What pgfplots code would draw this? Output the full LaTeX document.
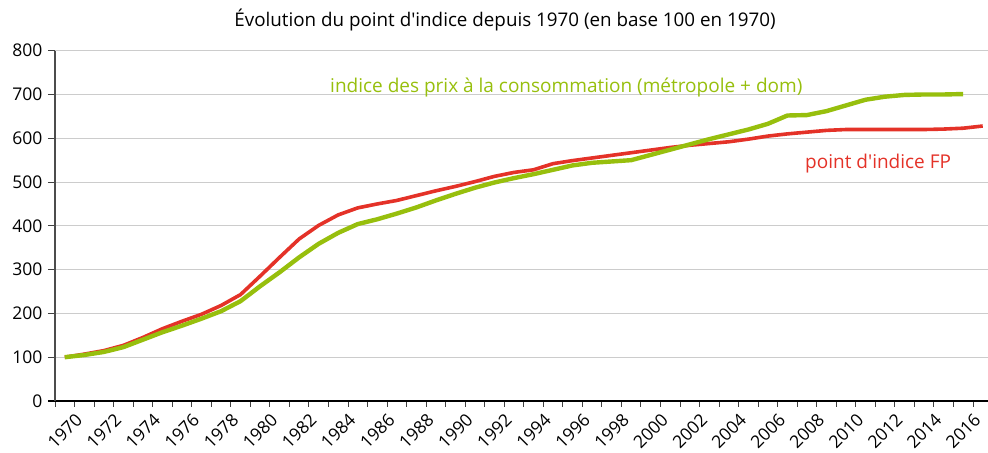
\documentclass[border=0pt]{standalone}
\usepackage{pgfplots}
\pgfplotsset{compat=1.18}
\usetikzlibrary{calc}
\usepackage{fontspec}
\setmainfont{Open Sans}
\definecolor{cgreen}{RGB}{151,191,13}
\definecolor{cred}{RGB}{228,50,40}
\begin{document}
\begin{tikzpicture}[x=1pt,y=1pt]
\begin{axis}[
  name=ax,
  scale only axis,
  width=933pt, height=350.3pt,
  xmin=1969.5, xmax=2017.27,
  ymin=0, ymax=800,
  axis lines=left,
  axis line style={-},
  x axis line style={black, line width=1.2pt, shorten <=-7pt},
  y axis line style={black!70, line width=1.2pt},
  ytick={0,100,...,800},
  xtick={1970,1972,...,2016},
  minor xtick={1969.5,1970.5,...,2016.5},
  major x tick style={draw=none},
  minor x tick style={black!75, line width=0.9pt},
  y tick style={black!75, line width=0.9pt},
  tick align=outside,
  major tick length=7pt,
  minor tick length=6pt,
  ymajorgrids,
  grid style={black!20, line width=1.1pt},
  /pgf/number format/assume math mode=true,
  /pgf/number format/1000 sep={},
  tick label style={font=\fontsize{17.5}{20}\selectfont},
  yticklabel style={anchor=east, xshift=-2pt},
  xticklabel style={rotate=45, anchor=center, inner sep=0pt},
  xticklabel shift=23pt,
  clip=false,
]
\addplot[cred, line width=3.6pt, line join=round] coordinates {
(1970,100) (1971,107) (1972,115) (1973,127) (1974,145) (1975,165) (1976,182) (1977,198) (1978,218) (1979,243)
(1980,285) (1981,328) (1982,370) (1983,401) (1984,425) (1985,441) (1986,450) (1987,458) (1988,469) (1989,480)
(1990,490) (1991,501) (1992,513) (1993,522) (1994,528) (1995,542) (1996,549) (1997,555) (1998,561) (1999,567)
(2000,573) (2001,579) (2002,584) (2003,588) (2004,592) (2005,598) (2006,605) (2007,610) (2008,614) (2009,618)
(2010,620) (2011,620) (2012,620) (2013,620) (2014,620) (2015,621) (2016,623) (2017,628)
};
\addplot[cgreen, line width=4.4pt, line join=round] coordinates {
(1970,100) (1971,105) (1972,112) (1973,123) (1974,140) (1975,157) (1976,172) (1977,188) (1978,205) (1979,228)
(1980,262) (1981,294) (1982,328) (1983,359) (1984,384) (1985,404) (1986,415) (1987,428) (1988,442) (1989,458)
(1990,473) (1991,487) (1992,499) (1993,509) (1994,518) (1995,528) (1996,538) (1997,544) (1998,547) (1999,550)
(2000,562) (2001,574) (2002,586) (2003,598) (2004,609) (2005,620) (2006,633) (2007,652) (2008,653) (2009,662)
(2010,675) (2011,688) (2012,695) (2013,699) (2014,700) (2015,700) (2016,701)
};
\node[anchor=west, inner sep=0pt, text=cgreen, font=\fontsize{19}{22}\selectfont] at (axis cs:1983.58,716) {indice des prix à la consommation (métropole + dom)};
\node[anchor=west, inner sep=0pt, text=cred, font=\fontsize{19}{22}\selectfont] at (axis cs:2007.9,542) {point d\textquotesingle indice FP};
\node[anchor=center, inner sep=0pt, font=\fontsize{18.8}{22}\selectfont] at (rel axis cs:0.4823,1.0876) {Évolution du point d\textquotesingle indice depuis 1970 (en base 100 en 1970)};
\end{axis}
\pgfresetboundingbox
\path (ax.south west) ++(-55pt,-52pt) rectangle ($(ax.north east)+(0pt,50.7pt)$);
\end{tikzpicture}
\end{document}
